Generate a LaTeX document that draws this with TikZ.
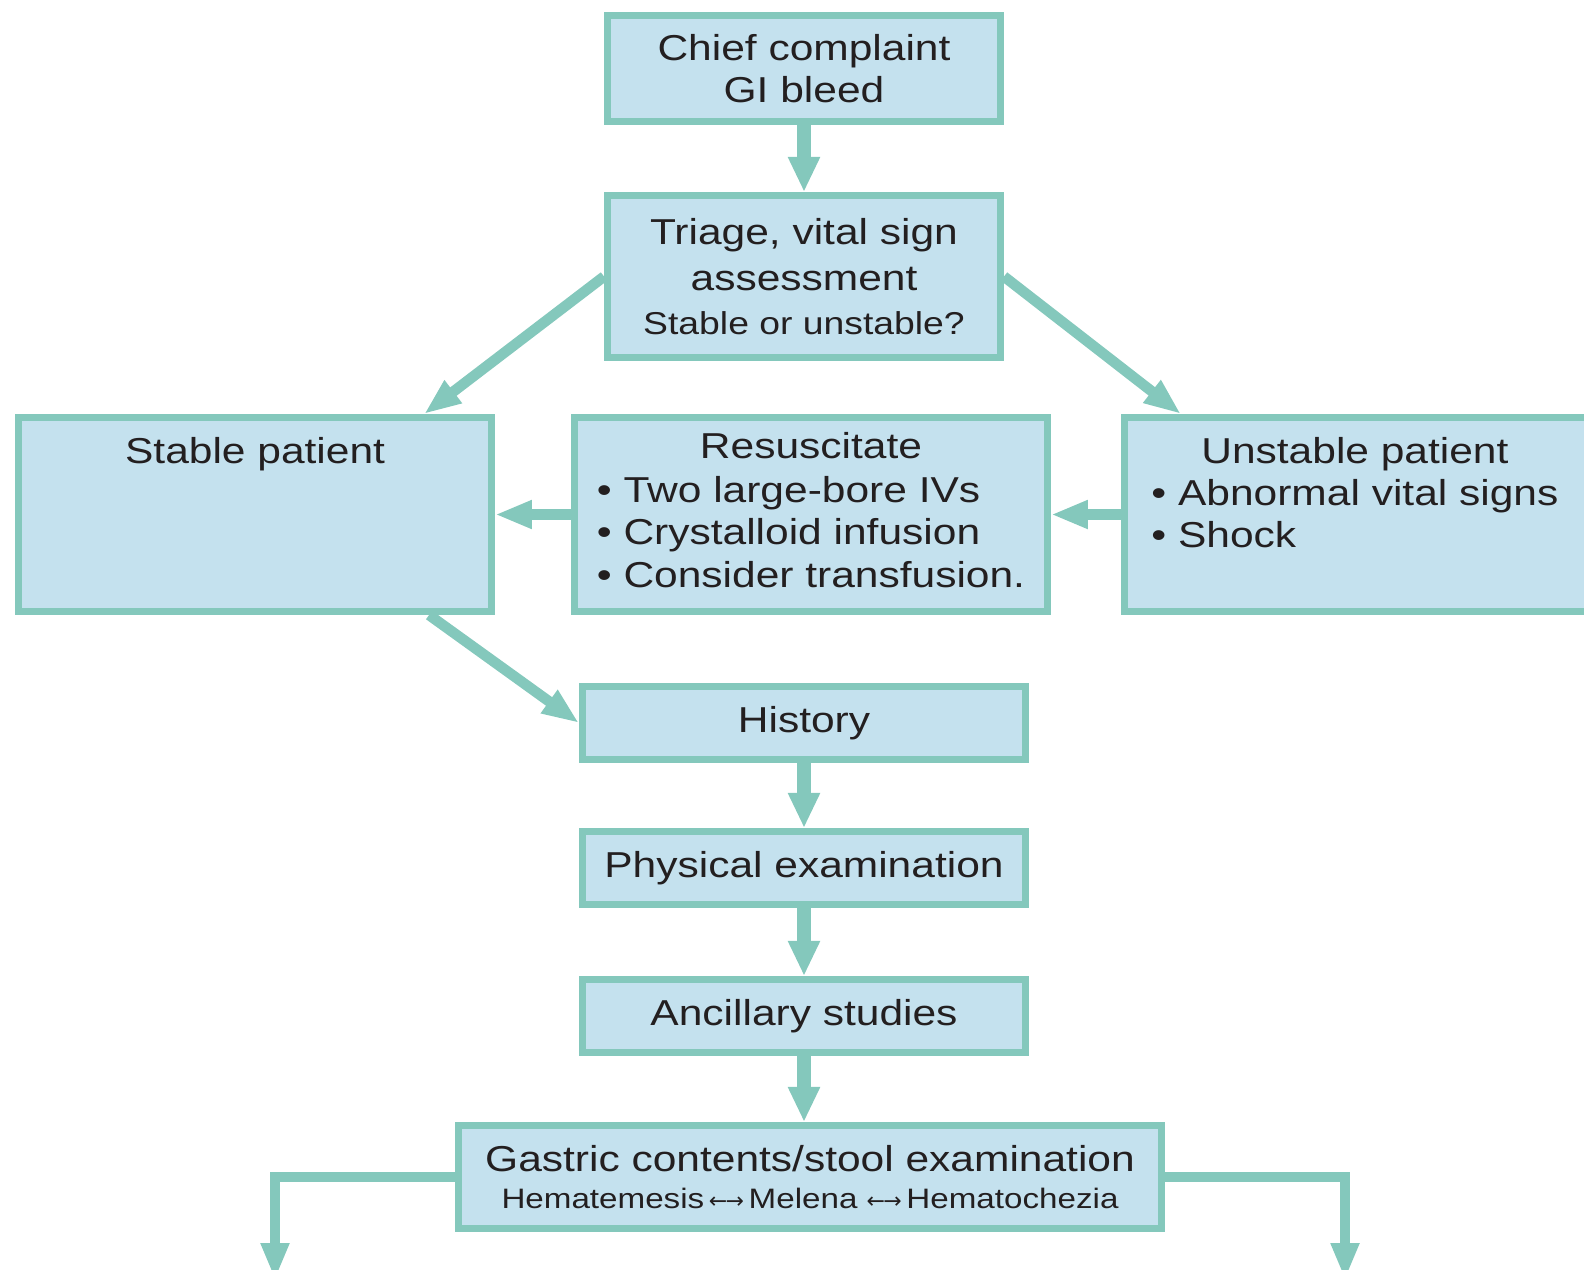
\documentclass[tikz,border=0pt]{standalone}
\usepackage{fontspec}
\setmainfont{Liberation Sans}[FakeStretch=1.18]
\newfontfamily\arrowfont{DejaVu Sans}
\usetikzlibrary{arrows.meta, positioning}
\definecolor{GiTeal}{HTML}{84C8BC}
\definecolor{GiFill}{HTML}{C4E1EE}
\definecolor{GiText}{HTML}{231F20}
\newcommand{\boxfont}{\fontsize{20.5}{24}\selectfont}
\newcommand{\subfont}{\fontsize{18}{22}\selectfont}
\newcommand{\notefont}{\fontsize{16}{19}\selectfont}
\newcommand{\twoway}{{\arrowfont\fontsize{12.5}{19}\selectfont ←\kern-1pt→}}

\begin{document}
\begin{tikzpicture}[
      x=0.02cm, y=-0.02cm,
      box/.style={draw=GiTeal, fill=GiFill, line width=4pt, text=GiText, font=\boxfont, align=center, inner sep=0pt},
      txt/.style={text=GiText, font=\boxfont, inner sep=0pt},
      arrow/.style={-{Triangle[length=21pt, width=15pt]}, draw=GiTeal, line width=6pt},
      trunk/.style={-{Triangle[length=20pt, width=17pt]}, draw=GiTeal, line width=8pt}
  ]
      \useasboundingbox (0,0) rectangle (1584,1269);
      \clip (0,0) rectangle (1584,1269);

      % Top of the flow
      \node[box, minimum width=7.86cm, minimum height=2.12cm] (chief) at (804,68.5) {Chief complaint\\GI bleed};
      \node[box, minimum width=7.86cm, minimum height=3.24cm, below=1.34cm of chief] (triage) {Triage, vital sign\\[2.6pt]assessment\\[1pt]{\subfont Stable or unstable?}};

      % Middle row
      \node[box, minimum width=9.46cm, minimum height=3.88cm] (resus) at (811,514.5) {\begin{tabular}{@{}l@{}}\multicolumn{1}{c}{Resuscitate}\\[1pt]• Two large-bore IVs\\• Crystalloid infusion\\• Consider transfusion.\end{tabular}};
      \node[box, minimum width=9.46cm, minimum height=3.88cm, left=1.52cm of resus] (stable) {};
      \node[box, minimum width=9.46cm, minimum height=3.88cm, right=1.4cm of resus] (unstable) {};
      \node[txt, anchor=base] (stabletitle) at ([yshift=-0.98cm]stable.north) {Stable patient};
      \node[txt, anchor=base] (unstablelist) at ([xshift=-0.12cm, yshift=-0.98cm]unstable.north) {\begin{tabular}[t]{@{}l@{}}\multicolumn{1}{c}{Unstable patient}\\• Abnormal vital signs\\• Shock\end{tabular}};

      % Lower column
      \node[box, minimum width=8.86cm, minimum height=1.46cm] (history) at (804,723) {History};
      \node[box, minimum width=8.86cm, minimum height=1.46cm, below=1.3cm of history] (physical) {Physical examination};
      \node[box, minimum width=8.86cm, minimum height=1.46cm, below=1.36cm of physical] (ancillary) {Ancillary studies};
      \node[box, minimum width=14.06cm, minimum height=2.06cm, below=1.32cm of ancillary, xshift=0.12cm] (gastric) {Gastric contents/stool examination\\[-2.5pt]{\notefont Hematemesis\,\twoway\,Melena \twoway\,Hematochezia}};

      % Open ends below the picture
      \coordinate (leftout) at (275,1280);
      \coordinate (rightout) at (1345,1280);

      % Connectors
      \draw[trunk] (chief) -- (triage);
      \draw[arrow] (triage.west) -- ([xshift=3.38cm]stable.north);
      \draw[arrow] (triage.east) -- ([xshift=-3.6cm]unstable.north);
      \draw[arrow] (resus) -- (stable);
      \draw[arrow] (unstable) -- (resus);
      \draw[arrow] ([xshift=3.48cm]stable.south) -- (history.west);
      \draw[trunk] (history) -- (physical);
      \draw[trunk] (physical) -- (ancillary);
      \draw[trunk] (ancillary.south) -- (ancillary.south |- gastric.north);
      \draw[arrow] (gastric.west) -| (leftout);
      \draw[arrow] (gastric.east) -| (rightout);
  \end{tikzpicture}
\end{document}
